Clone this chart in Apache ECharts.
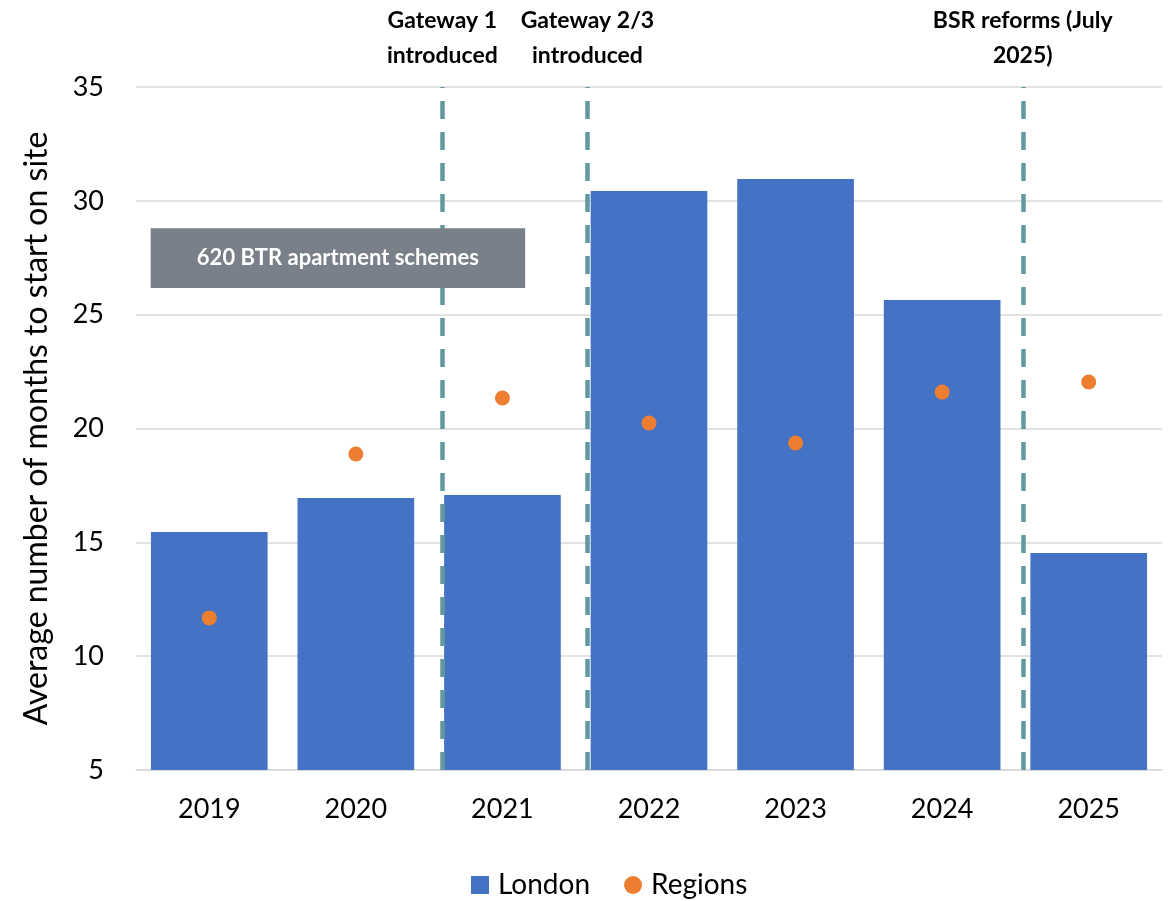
<!DOCTYPE html>
<html>
<head>
<meta charset="utf-8">
<script src="https://cdn.jsdelivr.net/npm/echarts@6/dist/echarts.min.js"></script>
<style>html,body{margin:0;padding:0;background:#fff}#c{width:1170px;height:901px}</style>
</head>
<body>
<div id="c"></div>
<script>
var categories = ['2019','2020','2021','2022','2023','2024','2025'];
var londonValues = [15.45, 16.95, 17.08, 30.43, 30.96, 25.64, 14.53];
var regionsValues = [11.68, 18.88, 21.34, 20.24, 19.36, 21.6, 22.04];
var yTicks = {min: 5, max: 35, interval: 5};
var eventPositions = [2.09, 3.08, 6.05];
var eventLabels = ['Gateway 1\nintroduced', 'Gateway 2/3\nintroduced', 'BSR reforms (July\n2025)'];
var boxRange = {x0: 0.1, x1: 2.655, y0: 28.8, y1: 26.17};
var boxLabel = '620 BTR apartment schemes';
var yAxisTitle = 'Average number of months to start on site';

var FONT = 'Lato, "Liberation Sans", sans-serif';
var chart = echarts.init(document.getElementById('c'));

chart.setOption({
  animation: false,
  textStyle: {fontFamily: FONT},
  grid: {left: 136, right: 8, top: 87, bottom: 131},
  legend: {
    top: 866,
    left: 466,
    itemWidth: 18, itemHeight: 18, itemGap: 34,
    textStyle: {fontSize: 28, color: '#000', fontFamily: FONT, padding: [0, 0, 0, 4]},
    data: [{name: 'London', icon: 'rect'}, {name: 'Regions', icon: 'circle'}]
  },
  xAxis: [{
    type: 'category',
    data: categories,
    axisLine: {lineStyle: {color: '#d9d9d9', width: 1.5}},
    axisTick: {show: false},
    axisLabel: {fontSize: 27, color: '#000', margin: 26, fontFamily: FONT}
  }, {
    type: 'value', min: 0, max: 7, show: false
  }],
  yAxis: {
    type: 'value',
    min: yTicks.min, max: yTicks.max, interval: yTicks.interval,
    name: yAxisTitle,
    nameLocation: 'middle',
    nameGap: 83,
    nameTextStyle: {fontSize: 32, color: '#000', fontFamily: FONT},
    axisLine: {show: false},
    axisTick: {show: false},
    axisLabel: {fontSize: 27, color: '#000', margin: 32, fontFamily: FONT},
    splitLine: {lineStyle: {color: '#d9d9d9', width: 1.5}}
  },
  series: [{
    name: 'London',
    type: 'bar',
    data: londonValues,
    barCategoryGap: '20.4%',
    itemStyle: {color: '#4472C4'},
    z: 2
  }, {
    name: 'Regions',
    type: 'scatter',
    data: regionsValues,
    symbol: 'circle',
    symbolSize: 15,
    itemStyle: {color: '#ED7D31', opacity: 1},
    z: 4
  }, {
    name: 'events',
    type: 'line',
    xAxisIndex: 1,
    data: [],
    z: 3,
    markLine: {
      silent: true,
      z: 3,
      symbol: ['none', 'none'],
      lineStyle: {color: '#62999F', width: 4.5, type: [18, 13]},
      label: {
        show: true,
        position: 'end',
        distance: 14,
        color: '#000',
        fontWeight: 'bold',
        fontSize: 23,
        lineHeight: 35,
        fontFamily: FONT
      },
      data: eventPositions.map(function (p, i) {
        return {xAxis: p, label: {formatter: eventLabels[i]}};
      })
    }
  }, {
    name: 'box',
    type: 'line',
    xAxisIndex: 1,
    data: [],
    z: 10,
    markArea: {
      silent: true,
      z: 10,
      itemStyle: {color: '#7A808A', opacity: 1},
      label: {
        show: true,
        position: 'inside',
        color: '#fff',
        fontWeight: 'bold',
        fontSize: 22,
        fontFamily: FONT
      },
      data: [[
        {xAxis: boxRange.x0, yAxis: boxRange.y0, name: boxLabel},
        {xAxis: boxRange.x1, yAxis: boxRange.y1}
      ]]
    }
  }]
});
</script>
</body>
</html>
